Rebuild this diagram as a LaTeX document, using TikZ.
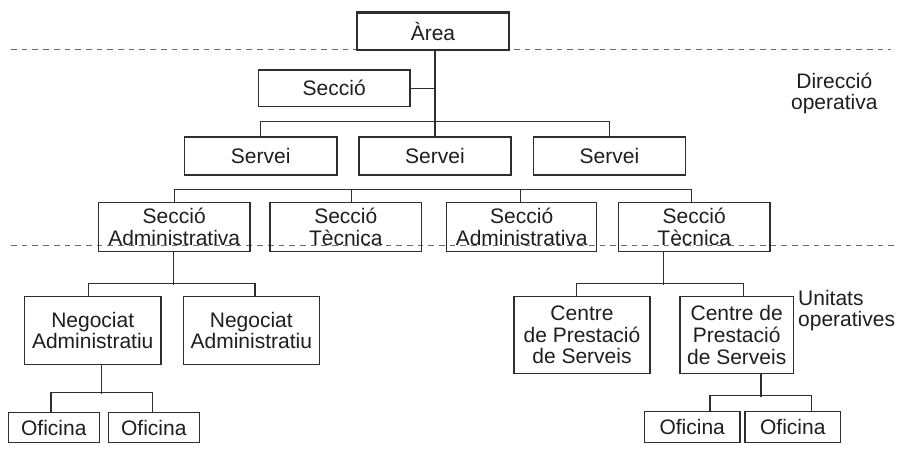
\documentclass[tikz,border=0pt]{standalone}
\usepackage{fontspec}
\setmainfont{Liberation Sans}
\definecolor{linec}{HTML}{2E2E2E}
\definecolor{textc}{HTML}{1E1E1E}
\definecolor{dashc}{HTML}{6A6A6A}
\begin{document}
\begin{tikzpicture}[x=1pt,y=-1pt,
  box/.style={draw=linec, line width=1.3pt, text=textc, inner sep=0pt,
    align=center, font=\fontsize{21}{21.7}\selectfont},
  wire/.style={draw=linec, line width=1.3pt},
  level/.style={draw=dashc, line width=1.5pt, dash pattern=on 5.7pt off 5pt},
  note/.style={text=textc, inner sep=0pt, font=\fontsize{21}{21}\selectfont}]
\useasboundingbox (0,0) rectangle (898,448);

% level separators
\draw[level] (11,49.5) -- (891,49.5);
\draw[level] (11,245.5) -- (897,245.5);

% top of the hierarchy
\node[box, line width=2.6pt, minimum width=152pt, minimum height=37.7pt] (area) at (433,31.2) {Àrea};
\node[box, minimum width=151.7pt, minimum height=36.7pt] (seccio) at (334.2,88.3) {Secció};

% services
\node[box, minimum width=152.6pt, minimum height=38pt] (sv1) at (260.7,156) {Servei};
\node[box, minimum width=151.8pt, minimum height=38pt] (sv2) at (435,156) {Servei};
\node[box, minimum width=152.5pt, minimum height=38pt] (sv3) at (609.5,156) {Servei};

% sections
\node[box, minimum width=151.7pt, minimum height=49.2pt] (sa1) at (174.2,227.1) {Secció\\Administrativa};
\node[box, minimum width=151.7pt, minimum height=49.2pt] (st1) at (345.8,227.1) {Secció\\Tècnica};
\node[box, minimum width=150pt, minimum height=49.2pt] (sa2) at (521.7,227.1) {Secció\\Administrativa};
\node[box, minimum width=151.7pt, minimum height=49.2pt] (st2) at (694.2,227.1) {Secció\\Tècnica};

% operative units
\node[box, minimum width=136.7pt, minimum height=67.6pt] (ng1) at (92.7,330.5) {Negociat\\Administratiu};
\node[box, minimum width=136pt, minimum height=67.6pt] (ng2) at (251.3,330.5) {Negociat\\Administratiu};
\node[box, minimum width=136pt, minimum height=76.6pt] (cp1) at (582,335) {Centre\\de Prestació\\de Serveis};
\node[box, minimum width=113.3pt, minimum height=76.6pt] (cp2) at (736.7,335) {Centre de\\Prestació\\de Serveis};

% offices
\node[box, minimum width=91pt, minimum height=30pt] (of1) at (53.8,427.7) {Oficina};
\node[box, minimum width=91pt, minimum height=30pt] (of2) at (153.8,427.7) {Oficina};
\node[box, minimum width=95.7pt, minimum height=31pt] (of3) at (692.2,427.2) {Oficina};
\node[box, minimum width=95.7pt, minimum height=31pt] (of4) at (792.8,427.2) {Oficina};

% side labels
\node[note, align=center, anchor=north] (dir) at (834.3,73) {Direcció\\operativa};
\node[note, align=left, anchor=north west] (uo) at (798,290.5) {Unitats\\operatives};

% trunk and service bus
\coordinate (tk) at (435,87.3);
\draw[wire] (area.south -| tk) -- (sv2.north);
\draw[wire] (seccio.east) -- (seccio.east -| tk);
\draw[wire] (sv1.north) -- ++(0,-14.7) -| (sv3.north);

% section bus
\draw[wire] (sa1.north) -- ++(0,-12.5) -| ([xshift=-2.5pt]st2.north);
\draw[wire] ([xshift=6pt]st1.north) -- ++(0,-12.5);
\draw[wire] ([xshift=-1pt]sa2.north) -- ++(0,-12.5);

% administrative branch
\draw[wire] ([xshift=-0.9pt]sa1.south) -- ++(0,32.3);
\draw[wire] ([xshift=-4.4pt]ng1.north) -- ++(0,-12.6) -| ([xshift=3.7pt]ng2.north);
\draw[wire] ([xshift=9pt]ng1.south) -- ++(0,29);
\draw[wire] ([xshift=-2.8pt]of1.north) -- ++(0,-19.4) -| ([xshift=-1.1pt]of2.north);

% technical branch
\draw[wire] ([xshift=-30.9pt]st2.south) -- ++(0,32.3);
\draw[wire] ([xshift=-5.3pt]cp1.north) -- ++(0,-12.6) -| ([xshift=6.6pt]cp2.north);
\draw[wire] ([xshift=24.3pt]cp2.south) -- ++(0,22.7);
\draw[wire] ([xshift=17.8pt]of3.north) -- ++(0,-15.7) -| ([xshift=18.9pt]of4.north);
\end{tikzpicture}
\end{document}
